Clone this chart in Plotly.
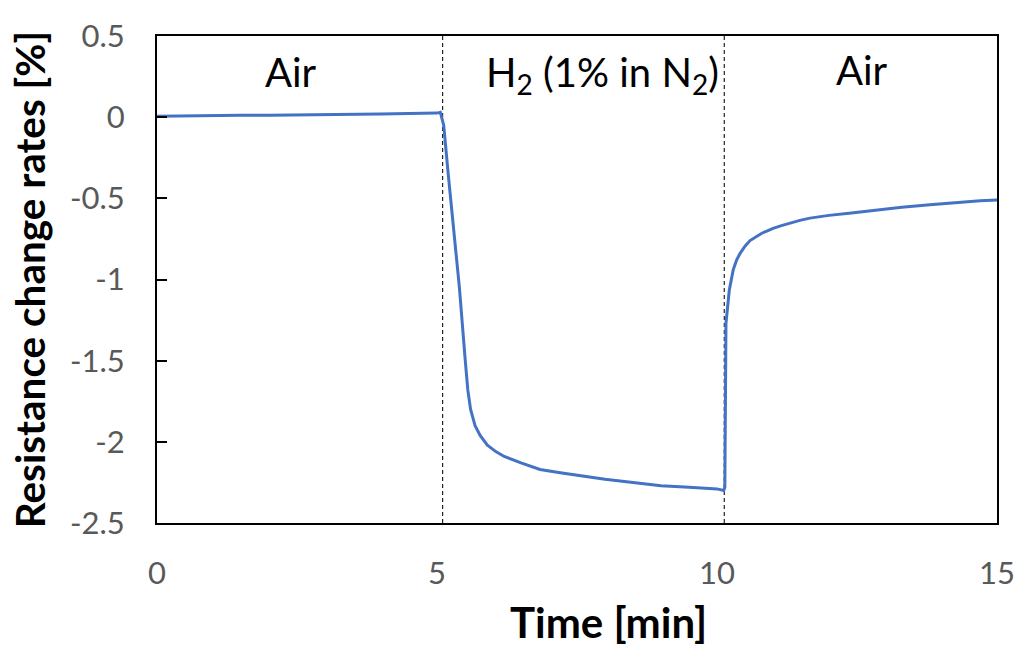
import plotly.graph_objects as go

# Time [min]
time_min = [0, 0.5, 1.0, 1.5, 2.0, 2.5, 3.0, 3.5, 4.0, 4.5, 5.0, 5.06,
            5.12, 5.2, 5.29, 5.4, 5.5, 5.55, 5.6, 5.68, 5.77, 5.9, 6.05, 6.2,
            6.5, 6.84, 7.2, 7.6, 8.0, 8.5, 9.0, 9.5, 10.0, 10.12,
            10.14, 10.16, 10.19, 10.22, 10.29, 10.35, 10.41, 10.5, 10.59, 10.7, 10.8, 10.9,
            11.0, 11.15, 11.3, 11.48, 11.66,
            12.0, 12.4, 12.9, 13.3, 13.8, 14.3, 14.7, 15.0]
# Resistance change rate [%]
resistance_change = [0.005, 0.008, 0.010, 0.012, 0.012, 0.015, 0.018, 0.020, 0.020, 0.022, 0.025, 0.03,
                     -0.05, -0.35, -0.65, -1.05, -1.48, -1.68, -1.80, -1.90, -1.96, -2.02, -2.06, -2.09,
                     -2.13, -2.17, -2.19, -2.21, -2.23, -2.25, -2.27, -2.28, -2.29, -2.30,
                     -2.28, -1.27, -1.14, -1.065, -0.94, -0.88, -0.84, -0.795, -0.76, -0.735, -0.715, -0.70,
                     -0.685, -0.668, -0.652, -0.636, -0.622,
                     -0.605, -0.59, -0.57, -0.555, -0.54, -0.525, -0.515, -0.51]

switch_times = [5.1, 10.13]
phase_labels = ["Air", "H<sub>2</sub> (1% in N<sub>2</sub>)", "Air"]
phase_label_x = [2.39, 7.95, 12.59]
phase_label_y = [0.28, 0.26, 0.29]

x_ticks = [0, 5, 10, 15]
y_ticks = [0.5, 0, -0.5, -1, -1.5, -2, -2.5]

FONT = "Lato, 'Open Sans', sans-serif"

fig = go.Figure()
fig.add_trace(go.Scatter(x=time_min, y=resistance_change, mode="lines",
                         line=dict(color="#4472C4", width=3), showlegend=False))

for t in switch_times:
    fig.add_shape(type="line", xref="x", yref="paper", x0=t, x1=t, y0=0, y1=1,
                  line=dict(color="#222222", width=1.2, dash="4px,3px"), layer="below")

for lab, lx, ly in zip(phase_labels, phase_label_x, phase_label_y):
    fig.add_annotation(x=lx, y=ly, text=lab, showarrow=False,
                       font=dict(family=FONT, size=40, color="black"))

# x-axis title (offset to the right as in the original)
fig.add_annotation(xref="paper", yref="paper", x=0.537, y=-0.203,
                   xanchor="center", yanchor="middle", showarrow=False,
                   text="<b>Time [min]</b>", font=dict(family=FONT, size=42, color="black"))

fig.update_layout(
    width=1016, height=651,
    margin=dict(l=157, r=19, t=36, b=128),
    paper_bgcolor="white", plot_bgcolor="white",
    font=dict(family=FONT),
)
fig.update_xaxes(range=[0, 15], tickvals=x_ticks, ticktext=[str(v) for v in x_ticks],
                 showgrid=False, zeroline=False, showline=True, mirror=True,
                 linecolor="black", linewidth=2, ticks="", automargin=False,
                 tickfont=dict(family=FONT, size=31, color="#595959"),
                 ticklabelstandoff=22)
fig.update_yaxes(range=[-2.5, 0.5], tickvals=y_ticks, ticktext=[f"{v:g}" for v in y_ticks],
                 showgrid=False, zeroline=False, showline=True, mirror=True,
                 linecolor="black", linewidth=2, ticks="inside", ticklen=10, tickwidth=2,
                 tickcolor="black", automargin=False,
                 tickfont=dict(family=FONT, size=31, color="#595959"),
                 ticklabelstandoff=24,
                 title=dict(text="<b>Resistance change rates [%]</b>",
                            font=dict(family=FONT, size=40.5, color="black"), standoff=12))

fig.write_html("out.html")
